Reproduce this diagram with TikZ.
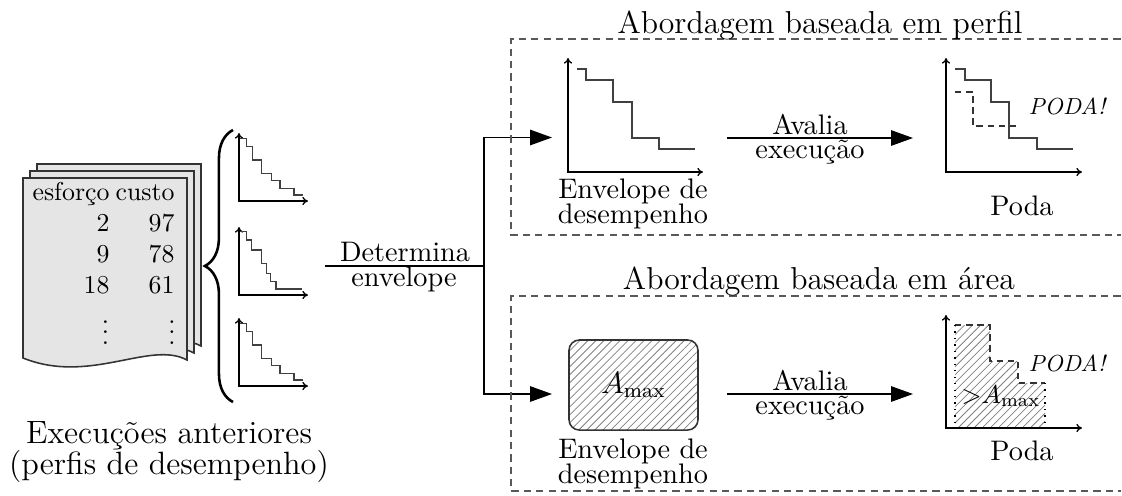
\documentclass[tikz,border=0pt]{standalone}
\usepackage{fontspec}
\usetikzlibrary{arrows.meta,patterns,patterns.meta,decorations.pathreplacing}
\newcommand{\mydots}{\vbox{\baselineskip4pt\lineskiplimit0pt\hbox{.}\hbox{.}\hbox{.}}}
\tikzset{
  lbl/.style={inner sep=0pt, anchor=base, font=\fontsize{10.95}{12}\selectfont},
  ttl/.style={inner sep=0pt, anchor=base, font=\fontsize{12.3}{14}\selectfont},
  exl/.style={inner sep=0pt, anchor=base, font=\fontsize{12.5}{14}\selectfont},
  tbl/.style={inner sep=0pt, anchor=base east, font=\fontsize{10}{12}\selectfont},
  podast/.style={inner sep=0pt, anchor=base, font=\fontsize{9}{11}\selectfont\itshape},
  dbox/.style={draw=black!65, dash pattern=on 2.8pt off 2pt, line width=0.5pt},
  ddash/.style={draw=black!80, dash pattern=on 2.5pt off 1.8pt, line width=0.5pt},
  plotaxis/.style={{To[length=2.2pt,width=3.2pt]}-{To[length=2.2pt,width=3.2pt]}, line width=0.5pt},
  stepline/.style={draw=black!75, line width=0.55pt},
  conn/.style={line width=0.5pt},
  bigarrow/.style={-{Triangle[length=8.5pt,width=6pt]}, line width=0.5pt},
  page/.style={draw=black!80, fill=black!10, line width=0.6pt},
  hatch/.style={pattern={Lines[angle=45,distance=2.2pt,line width=0.3pt]}, pattern color=black!50},
}
\begin{document}
\begin{tikzpicture}[x=0.3876pt,y=-0.3876pt]
\useasboundingbox (0,0) rectangle (1122,495);

% ---------- stacked document ----------
\foreach \dx/\dy in {14/-14, 7/-7, 0/0}{
  \begin{scope}[shift={(\dx,\dy)}]
    \draw[page] (23,178) -- (187,178) -- (187,360)
      .. controls (150,340) and (90,385) .. (23,358) -- cycle;
  \end{scope}
}
\node[tbl] (h1) at (110,200) {esforço};
\node[tbl] (h2) at (175,200) {custo};
\node[tbl] (r1a) at (110,231) {2};
\node[tbl] (r1b) at (175,231) {97};
\node[tbl] (r2a) at (110,262) {9};
\node[tbl] (r2b) at (175,262) {78};
\node[tbl] (r3a) at (110,293) {18};
\node[tbl] (r3b) at (175,293) {61};
\node[tbl] (v1) at (109.5,344) {\mydots};
\node[tbl] (v2) at (176,344) {\mydots};

\node[exl] (ex1) at (169,443) {Execuções anteriores};
\node[exl] (ex2) at (169,474) {(perfis de desempenho)};

% ---------- brace ----------
\draw[decorate, decoration={brace, amplitude=10.9pt}, line width=1pt]
  (233,402) -- (233,130);

% ---------- small profile plots ----------
\foreach \yy in {0,185}{
  \begin{scope}[shift={(239,201+\yy)}]
    \draw[plotaxis] (0,-68) -- (0,0) -- (69,0);
    \draw[stepline] (1,-62.7) -- (7.7,-62.7) -- (7.7,-54.3) -- (13.7,-54.3)
      -- (13.7,-41) -- (22.7,-41) -- (22.7,-27.7) -- (32.7,-27.7)
      -- (32.7,-20.3) -- (41,-20.3) -- (41,-12.7) -- (55,-12.7)
      -- (55,-6) -- (63.7,-6);
  \end{scope}
}
\begin{scope}[shift={(239,295)}]
  \draw[plotaxis] (0,-68) -- (0,0) -- (69,0);
  \draw[stepline] (1,-63.3) -- (7.7,-63.3) -- (7.7,-55) -- (12.7,-55)
    -- (12.7,-45) -- (22.7,-45) -- (22.7,-31.7) -- (27.7,-31.7)
    -- (27.7,-21.7) -- (31.7,-21.7) -- (31.7,-13.3) -- (37,-13.3)
    -- (37,-6) -- (62.7,-6);
\end{scope}

% ---------- Determina envelope ----------
\coordinate (detL) at (325,266);
\coordinate (split) at (484,266);
\coordinate (envIn) at (552,137.5);
\coordinate (areaIn) at (552,394);
\draw[conn] (detL) -- (split);
\draw[bigarrow] (split) |- (envIn);
\draw[bigarrow] (split) |- (areaIn);
\node[lbl] (det1) at (405,261.5) {Determina};
\node[lbl] (det2) at (404,286) {envelope};

% ---------- dashed panels ----------
\draw[dbox] (1120.5,39) -- (511,39) -- (511,235) -- (1120.5,235);
\draw[dbox] (1120.5,296) -- (511,296) -- (511,491) -- (1120.5,491);
\node[ttl] (t1) at (820,33) {Abordagem baseada em perfil};
\node[ttl] (t2) at (819,289) {Abordagem baseada em área};

% ---------- top panel ----------
\begin{scope}[shift={(568,172)}]
  \draw[plotaxis] (0,-114) -- (0,0) -- (135,0);
  \draw[stepline] (9,-103) -- (18,-103) -- (18,-92) -- (45,-92) -- (45,-70)
    -- (64,-70) -- (64,-34) -- (91,-34) -- (91,-23) -- (127,-23);
\end{scope}
\node[lbl] (env1a) at (633,198) {Envelope de};
\node[lbl] (env1b) at (633,223) {desempenho};

\coordinate (av1s) at (727,138);
\coordinate (av1e) at (913,138);
\draw[bigarrow] (av1s) -- (av1e);
\node[lbl] (av1a) at (810,134) {Avalia};
\node[lbl] (av1b) at (810,158) {execução};

\begin{scope}[shift={(946,172)}]
  \draw[plotaxis] (0,-114) -- (0,0) -- (136,0);
  \draw[stepline] (9,-103) -- (19,-103) -- (19,-92) -- (45,-92) -- (45,-70)
    -- (63,-70) -- (63,-34) -- (91,-34) -- (91,-23) -- (127,-23);
  \draw[ddash] (9,-80) -- (27,-80) -- (27,-46) -- (72,-46);
\end{scope}
\node[podast] (pp1) at (1067,114) {PODA!};
\node[lbl] (poda1) at (1022,215) {Poda};

% ---------- bottom panel ----------
\node[draw=black!80, line width=0.6pt, rounded corners=4pt, hatch,
      minimum width=50pt, minimum height=34.9pt, inner sep=0pt,
      font=\fontsize{12}{14}\selectfont] (amax) at (633.5,385) {$A_{\max}$};
\node[lbl] (env2a) at (633,458) {Envelope de};
\node[lbl] (env2b) at (633,483) {desempenho};

\coordinate (av2s) at (727,394);
\coordinate (av2e) at (913,394);
\draw[bigarrow] (av2s) -- (av2e);
\node[lbl] (av2a) at (810,390) {Avalia};
\node[lbl] (av2b) at (810,414) {execução};

\fill[hatch] (955,428) -- (955,325) -- (990,325) -- (990,361) -- (1018,361)
  -- (1018,383) -- (1045,383) -- (1045,428) -- cycle;
\draw[ddash] (955,325) -- (990,325) -- (990,361) -- (1018,361)
  -- (1018,383) -- (1045,383);
\draw[dotted, line width=0.5pt] (955,325) -- (955,428);
\draw[dotted, line width=0.5pt] (1045,383) -- (1045,428);
\draw[plotaxis] (946,315) -- (946,428) -- (1082,428);
\node[inner sep=0pt, anchor=base, font=\fontsize{10}{12}\selectfont] (gt) at (1001,403) {${>}A_{\max}$};
\node[podast] (pp2) at (1067,371) {PODA!};
\node[lbl] (poda2) at (1022,460) {Poda};
\end{tikzpicture}
\end{document}
